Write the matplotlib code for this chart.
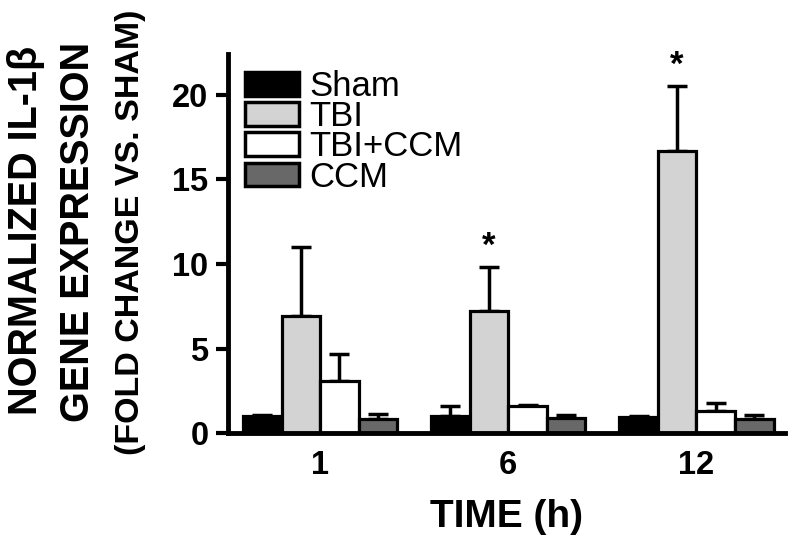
import numpy as np
import matplotlib
matplotlib.use('Agg')
import matplotlib.pyplot as plt
from matplotlib.patches import Patch

plt.rcParams['font.family'] = ['Liberation Sans', 'DejaVu Sans']

# Datos
times = ['1', '6', '12']
groups = ['Sham', 'TBI', 'TBI+CCM', 'CCM']
means = {
    'Sham':    [1.0, 1.0, 0.95],
    'TBI':     [6.9, 7.2, 16.7],
    'TBI+CCM': [3.1, 1.6, 1.3],
    'CCM':     [0.85, 0.9, 0.85],
}
errs = {
    'Sham':    [0.1, 0.6, 0.05],
    'TBI':     [4.1, 2.6, 3.8],
    'TBI+CCM': [1.6, 0.05, 0.5],
    'CCM':     [0.3, 0.2, 0.2],
}
significant = [False, True, True]  # asterisco sobre TBI
colors = {'Sham': 'black', 'TBI': '#d3d3d3', 'TBI+CCM': 'white', 'CCM': '#686868'}

fig = plt.figure(figsize=(8, 5.49), dpi=100)
ax = fig.add_axes([0.285, 0.211, 0.696, 0.69])

x = np.arange(len(times))
w = 0.205
for k, g in enumerate(groups):
    pos = x + (k - 1.5) * w
    ax.bar(pos, means[g], width=w, color=colors[g], edgecolor='black',
           linewidth=2.3, zorder=2)
    ax.errorbar(pos, means[g], yerr=[np.zeros(len(times)), errs[g]], fmt='none',
                ecolor='black', elinewidth=2.5, capsize=7.5, capthick=2.5, zorder=1)

tbi_pos = x - 0.5 * w
for i in range(len(times)):
    if significant[i]:
        top = means['TBI'][i] + errs['TBI'][i]
        ax.text(tbi_pos[i], top + 0.25, '*', ha='center', va='bottom',
                fontsize=25, fontweight='bold')

ax.set_xlim(-0.49, 2.47)
ax.set_ylim(0, 22.4)
ax.set_yticks([0, 5, 10, 15, 20])
ax.set_xticks(x)
ax.set_xticklabels(times)
for lab in ax.get_xticklabels() + ax.get_yticklabels():
    lab.set_fontsize(23.5)
    lab.set_fontweight('bold')
ax.tick_params(axis='y', width=3, length=9, direction='out', pad=5)
ax.tick_params(axis='x', length=0, pad=12)
ax.spines['top'].set_visible(False)
ax.spines['right'].set_visible(False)
ax.spines['left'].set_linewidth(3.5)
ax.spines['bottom'].set_linewidth(3.5)

ax.set_xlabel('TIME (h)', fontsize=28, fontweight='bold', labelpad=13)

fig.text(0.0325, 0.581, 'NORMALIZED IL-1β', rotation=90, ha='center', va='center',
         fontsize=28.5, fontweight='bold')
fig.text(0.0975, 0.577, 'GENE EXPRESSION', rotation=90, ha='center', va='center',
         fontsize=28.5, fontweight='bold')
fig.text(0.163, 0.577, '(FOLD CHANGE VS. SHAM)', rotation=90, ha='center', va='center',
         fontsize=24.5, fontweight='bold')

handles = [Patch(facecolor=colors[g], edgecolor='black', linewidth=2.5, label=g)
           for g in groups]
ax.legend(handles=handles, loc='upper left', bbox_to_anchor=(245 / 800, 1 - 70 / 549),
          bbox_transform=fig.transFigure, frameon=False, fontsize=25,
          handlelength=1.55, handleheight=0.68, handletextpad=0.3,
          labelspacing=-0.08, borderpad=0, borderaxespad=0)

fig.savefig('out.png', dpi=100)
